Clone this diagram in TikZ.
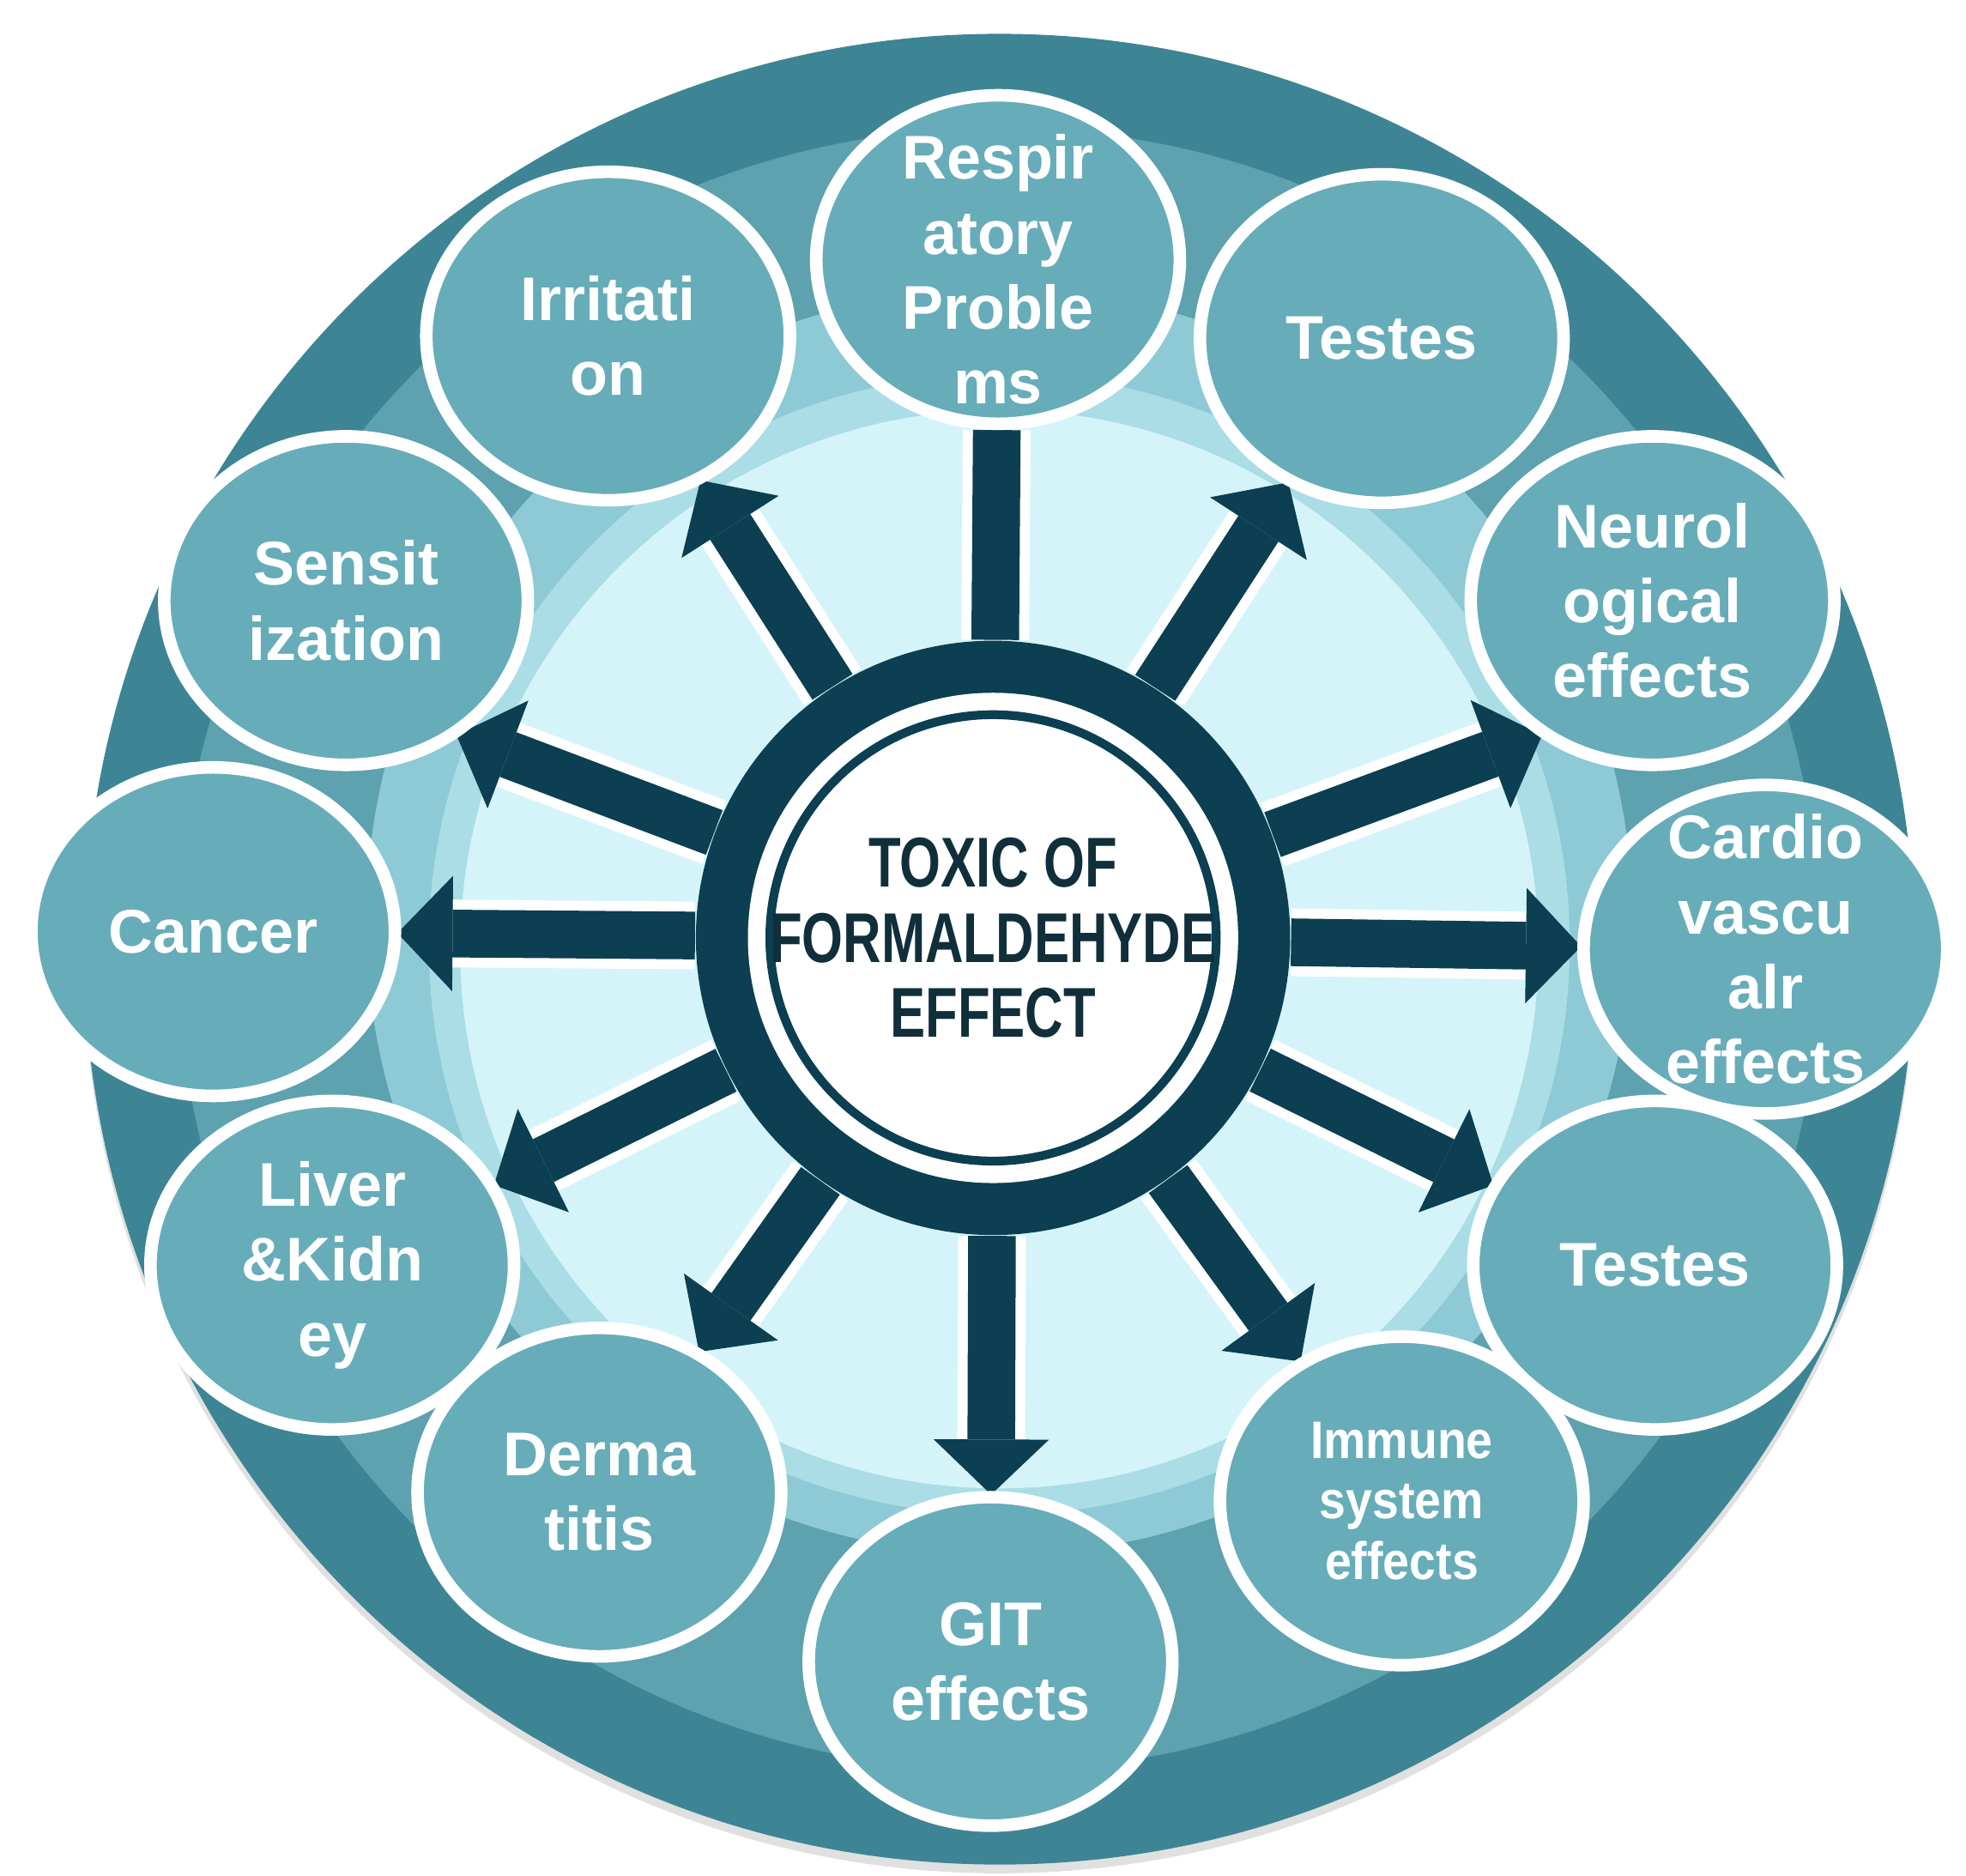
\documentclass[tikz,border=0pt]{standalone}
\usepackage{fontspec}
\setmainfont{Liberation Sans}
\newfontfamily\narrowfont{Liberation Sans}[FakeStretch=0.75]
\newfontfamily\slimfont{Liberation Sans}[FakeStretch=0.9]
\usetikzlibrary{arrows.meta,shapes.geometric}

\definecolor{navy}{HTML}{0B3F51}
\definecolor{coretext}{HTML}{112F3B}
\definecolor{rimdark}{HTML}{3D8595}
\definecolor{rimmid}{HTML}{5EA1AF}
\definecolor{rimlight}{HTML}{8DCAD5}
\definecolor{rimsoft}{HTML}{AADDE6}
\definecolor{rimpale}{HTML}{D4F4F9}
\definecolor{satfill}{HTML}{67ACB9}

\pgfdeclarelayer{back}
\pgfdeclarelayer{spokes}
\pgfsetlayers{back,spokes,main}

\begin{document}
\begin{tikzpicture}[
  sat/.style={ellipse,draw=white,line width=1mm,fill=satfill,minimum width=2.9cm,minimum height=2.62cm,inner sep=0pt},
  lbl/.style={text=white,align=center,inner sep=0pt,font=\bfseries\fontsize{14}{17}\selectfont},
  lblsmall/.style={lbl,font=\slimfont\bfseries\fontsize{12}{13.7}\selectfont},
  hubdisk/.style={circle,fill=navy,minimum size=4.74cm,inner sep=0pt},
  coredisk/.style={circle,fill=white,draw=navy,line width=0.7mm,minimum size=3.56cm,inner sep=0pt,
    preaction={draw=white,line width=3.5mm}},
  hubtext/.style={text=coretext,align=center,inner sep=0pt,font=\narrowfont\bfseries\fontsize{16}{17}\selectfont},
  spoke/.style={draw=navy,line width=3.8mm,-{Triangle[length=4.4mm,width=9.2mm,line width=0pt]},shorten >=-0.3mm},
  glow/.style={draw=white,line width=5.4mm,shorten >=4.1mm},
  plainbar/.style={draw=navy,line width=3.8mm}]
  \useasboundingbox (-7.92,-7.48) rectangle (7.76,7.48);
  % hub in the middle
  \node[hubdisk] (hub) at (0,0) {};
  \node[coredisk,label={[hubtext]center:{TOXIC OF\\FORMALDEHYDE\\EFFECT}}] (core) at (0,0) {};
  % effects around the hub
  \node[sat,label={[lbl,yshift=-0.8mm]center:{Respir\\atory\\Proble\\ms}}] (resp) at (0.04,5.41) {};
  \node[sat,label={[lbl]center:{Irritati\\on}}] (irr) at (-3.07,4.80) {};
  \node[sat,label={[lbl]center:Testes}] (testA) at (3.10,4.78) {};
  \node[sat,label={[lbl]center:{Sensit\\ization}}] (sens) at (-5.16,2.69) {};
  \node[sat,label={[lbl]center:{Neurol\\ogical\\effects}}] (neuro) at (5.26,2.69) {};
  \node[sat,label={[lbl]center:Cancer}] (cancer) at (-6.22,0.05) {};
  \node[sat,label={[lbl]center:{Liver\\\&Kidn\\ey}}] (liver) at (-5.27,-2.61) {};
  \node[sat,label={[lbl]center:Testes}] (testB) at (5.28,-2.61) {};
  \node[sat,label={[lbl]center:{Derma\\titis}}] (derma) at (-3.14,-4.42) {};
  \node[sat,label={[lblsmall]center:{Immune\\system\\effects}}] (immune) at (3.26,-4.49) {};
  \node[sat,label={[lbl]center:{GIT\\effects}}] (git) at (-0.02,-5.77) {};
  \node[sat,label={[lbl]center:{Cardio\\vascu\\alr\\effects}}] (cardio) at (6.16,-0.09) {};
  % spokes, under the circles
  \begin{pgfonlayer}{spokes}
    \foreach \t in {irr,testA,sens.310,neuro.230,cancer,cardio,liver,testB,derma,git,immune}
      \draw[glow] (hub) -- (\t);
    \draw[glow,shorten >=0pt] (hub) -- (resp);
    \foreach \t in {irr,testA,sens.310,neuro.230,cancer,cardio,liver,testB,derma,git,immune}
      \draw[spoke] (hub) -- (\t);
    \draw[plainbar] (hub) -- (resp);
  \end{pgfonlayer}
  % the rings behind everything
  \begin{pgfonlayer}{back}
    \fill[black!12] (0.05,-0.16) circle[radius=7.3];
    \fill[rimdark] (0.05,-0.09) circle[radius=7.3];
    \fill[rimmid] (0.05,-0.09) circle[radius=6.55];
    \fill[rimlight] (0.05,0.13) circle[radius=5.05];
    \fill[rimsoft] (0.05,-0.05) circle[radius=4.55];
    \fill[rimpale] (0.05,-0.09) circle[radius=4.3];
  \end{pgfonlayer}
\end{tikzpicture}
\end{document}
